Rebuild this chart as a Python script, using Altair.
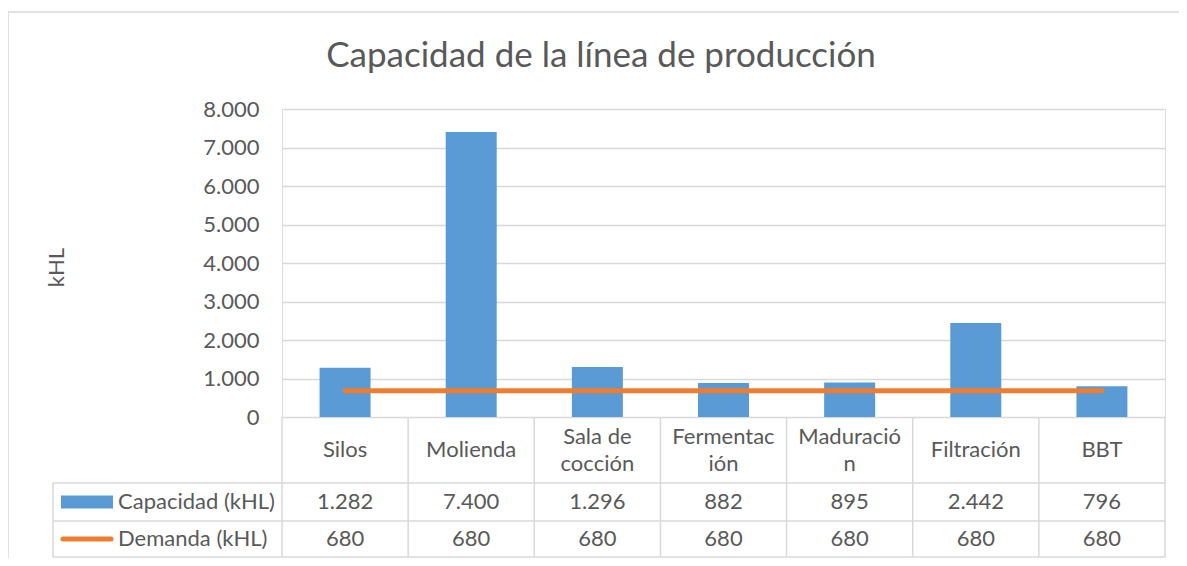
import altair as alt
import pandas as pd

categories = ["Silos", "Molienda", "Sala de cocción", "Fermentación", "Maduración", "Filtración", "BBT"]
header_lines = [["Silos"], ["Molienda"], ["Sala de", "cocción"], ["Fermentac", "ión"], ["Maduració", "n"], ["Filtración"], ["BBT"]]
capacidad = [1282, 7400, 1296, 882, 895, 2442, 796]
demanda = [680, 680, 680, 680, 680, 680, 680]
series_names = ["Capacidad (kHL)", "Demanda (kHL)"]
y_ticks = [0, 1000, 2000, 3000, 4000, 5000, 6000, 7000, 8000]
title_text = "Capacidad de la línea de producción"
y_title = "kHL"


def fmt(v):
    return f"{v:,}".replace(",", ".")


df = pd.DataFrame({
    "cat": categories,
    "header": header_lines,
    "nlines": [len(h) for h in header_lines],
    "capacidad": capacidad,
    "demanda": demanda,
    "cap_txt": [fmt(v) for v in capacidad],
    "dem_txt": [fmt(v) for v in demanda],
})
one = pd.DataFrame({"k": [0]})

W, H = 883, 308
FONT = "Lato"
FS = 22
TXT = "#595959"
GRID = "#d9d9d9"
BLUE = "#5b9bd5"
ORANGE = "#ed7d31"
TL = -229  # table left edge (relative to plot)
R1, R2, R3 = 66, 104, 140  # table row bottoms below plot
LH = 27

xenc = alt.X("cat:N", sort=categories, scale=alt.Scale(paddingInner=0, paddingOuter=0), axis=None)
yaxis = alt.Axis(
    values=y_ticks,
    labelExpr="replace(format(datum.value, ','), ',', '.')",
    labelFont=FONT, labelFontSize=FS, labelColor=TXT, labelPadding=23, labelOverlap=False,
    domain=False, ticks=False, grid=True, gridColor=GRID, gridWidth=1.3,
    title=y_title, titleFont=FONT, titleFontSize=FS, titleColor=TXT,
    titleFontWeight="normal", titleX=-214, titleY=H / 2 + 4,
)
yscale = alt.Scale(domain=[0, 8000], nice=False, zero=True)

base = alt.Chart(df)

bars = base.mark_bar(color=BLUE, size=51).encode(
    x=xenc,
    y=alt.Y("capacidad:Q", scale=yscale, axis=yaxis),
)

line = base.mark_line(color=ORANGE, strokeWidth=5, strokeCap="round").encode(
    x=xenc,
    y=alt.Y("demanda:Q", scale=yscale, axis=yaxis),
)

# table grid
vlines = base.mark_rule(color=GRID, strokeWidth=1.5).encode(
    x=alt.X("cat:N", sort=categories, bandPosition=0),
    y=alt.value(H), y2=alt.value(H + R3),
)
rline = alt.Chart(one).mark_rule(color=GRID, strokeWidth=1.5).encode(
    x=alt.value(W), y=alt.value(H), y2=alt.value(H + R3))
lline = alt.Chart(one).mark_rule(color=GRID, strokeWidth=1.5).encode(
    x=alt.value(TL), y=alt.value(H + R1), y2=alt.value(H + R3))
hlines = [
    alt.Chart(one).mark_rule(color=GRID, strokeWidth=1.5).encode(
        x=alt.value(TL), x2=alt.value(W), y=alt.value(H + r))
    for r in (R1, R2, R3)
]

header1 = base.transform_filter("datum.nlines == 1").mark_text(
    font=FONT, fontSize=FS, color=TXT, baseline="middle").encode(
    x=alt.X("cat:N", sort=categories),
    y=alt.value(H + R1 / 2),
    text="header",
)
header2 = base.transform_filter("datum.nlines == 2").mark_text(
    font=FONT, fontSize=FS, color=TXT, baseline="middle", lineHeight=LH).encode(
    x=alt.X("cat:N", sort=categories),
    y=alt.value(H + R1 / 2 - LH / 2),
    text="header",
)
row1 = base.mark_text(font=FONT, fontSize=FS, color=TXT, baseline="middle").encode(
    x=alt.X("cat:N", sort=categories),
    y=alt.value(H + (R1 + R2) / 2),
    text="cap_txt:N",
)
row2 = base.mark_text(font=FONT, fontSize=FS, color=TXT, baseline="middle").encode(
    x=alt.X("cat:N", sort=categories),
    y=alt.value(H + (R2 + R3) / 2),
    text="dem_txt:N",
)

leg1_txt = alt.Chart(one).mark_text(font=FONT, fontSize=FS, color=TXT, align="left", baseline="middle",
                                    text=series_names[0]).encode(
    x=alt.value(-164), y=alt.value(H + (R1 + R2) / 2))
leg2_txt = alt.Chart(one).mark_text(font=FONT, fontSize=FS, color=TXT, align="left", baseline="middle",
                                    text=series_names[1]).encode(
    x=alt.value(-164), y=alt.value(H + (R2 + R3) / 2))
leg1_sym = alt.Chart(one).mark_rect(color=BLUE).encode(
    x=alt.value(-221), x2=alt.value(-169),
    y=alt.value(H + (R1 + R2) / 2 - 6.5), y2=alt.value(H + (R1 + R2) / 2 + 6.5))
leg2_sym = alt.Chart(one).mark_rule(color=ORANGE, strokeWidth=5, strokeCap="round").encode(
    x=alt.value(-219), x2=alt.value(-171), y=alt.value(H + (R2 + R3) / 2))

# chart title
title = alt.Chart(one).mark_text(font=FONT, fontSize=35, color=TXT, align="center",
                                 baseline="alphabetic", text=title_text).encode(
    x=alt.value(319), y=alt.value(-42))

# outer chart frame
frame_top = alt.Chart(one).mark_rule(color=GRID, strokeWidth=1.5).encode(
    x=alt.value(-274), x2=alt.value(W + 40), y=alt.value(-97))
frame_left = alt.Chart(one).mark_rule(color=GRID, strokeWidth=1.5).encode(
    x=alt.value(-274), y=alt.value(-97), y2=alt.value(H + 200))

chart = alt.layer(
    frame_top, frame_left, title,
    bars, line,
    vlines, rline, lline, *hlines,
    header1, header2, row1, row2,
    leg1_sym, leg2_sym, leg1_txt, leg2_txt,
).properties(
    width=W, height=H,
    autosize=alt.AutoSizeParams(type="none"),
    padding={"left": 274, "top": 101, "right": 14, "bottom": 141},
).configure_view(stroke=None).configure(background="white")

chart.save("out.html", embed_options={"renderer": "svg", "actions": False})
